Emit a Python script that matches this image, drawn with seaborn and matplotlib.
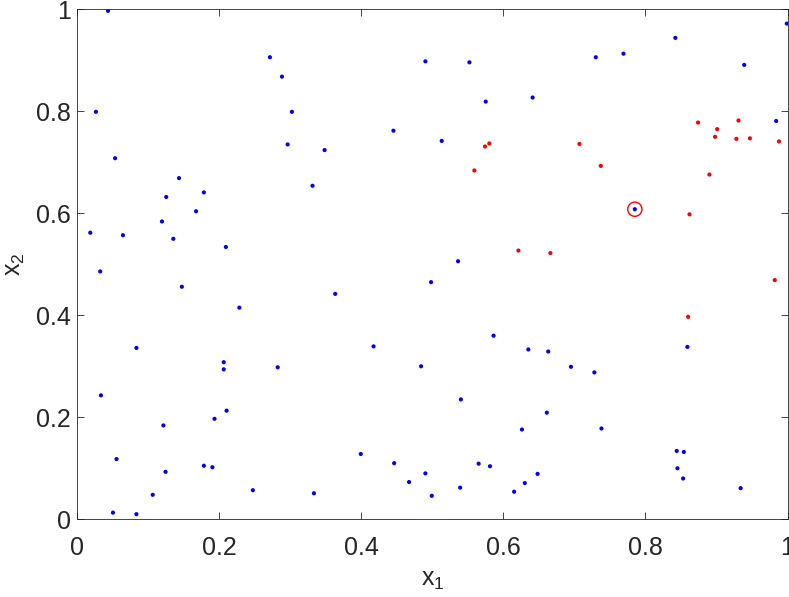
import matplotlib
matplotlib.use("Agg")
import matplotlib.pyplot as plt
import numpy as np
import pandas as pd
import seaborn as sns

sns.set_theme(style="white")
plt.rcParams["font.family"] = ["Liberation Sans", "DejaVu Sans"]
plt.rcParams["mathtext.default"] = "regular"

# blue points (outside the selected region)
blue_x = [0.018, 0.026, 0.032, 0.033, 0.043, 0.050, 0.053, 0.055, 0.064, 0.083, 0.083,
          0.106, 0.119, 0.121, 0.125, 0.124, 0.135, 0.143, 0.147, 0.167, 0.178, 0.178,
          0.190, 0.193, 0.206, 0.206, 0.209, 0.210, 0.228, 0.247, 0.271, 0.282, 0.288,
          0.296, 0.302, 0.331, 0.333, 0.348, 0.363, 0.399, 0.417, 0.445, 0.446, 0.467,
          0.484, 0.490, 0.490, 0.498, 0.499, 0.513, 0.536, 0.539, 0.540, 0.552, 0.565,
          0.575, 0.581, 0.586, 0.615, 0.626, 0.630, 0.635, 0.641, 0.648, 0.661, 0.663,
          0.695, 0.728, 0.730, 0.738, 0.769, 0.785, 0.842, 0.844, 0.845, 0.853, 0.854,
          0.859, 0.934, 0.939, 0.984, 0.999]
blue_y = [0.562, 0.799, 0.486, 0.243, 0.997, 0.013, 0.708, 0.118, 0.557, 0.336, 0.010,
          0.048, 0.584, 0.184, 0.632, 0.093, 0.550, 0.669, 0.456, 0.604, 0.641, 0.105,
          0.102, 0.197, 0.308, 0.294, 0.534, 0.213, 0.415, 0.057, 0.906, 0.298, 0.868,
          0.735, 0.799, 0.654, 0.051, 0.724, 0.442, 0.128, 0.339, 0.762, 0.110, 0.073,
          0.300, 0.898, 0.090, 0.465, 0.046, 0.742, 0.506, 0.062, 0.235, 0.896, 0.109,
          0.819, 0.104, 0.360, 0.054, 0.176, 0.071, 0.333, 0.827, 0.089, 0.209, 0.329,
          0.299, 0.288, 0.906, 0.178, 0.913, 0.608, 0.944, 0.134, 0.100, 0.080, 0.132,
          0.338, 0.061, 0.891, 0.781, 0.972]

# red points
red_x = [0.559, 0.574, 0.580, 0.621, 0.666, 0.707, 0.737, 0.860, 0.862, 0.874, 0.890,
         0.898, 0.901, 0.928, 0.931, 0.947, 0.982, 0.988]
red_y = [0.684, 0.731, 0.737, 0.527, 0.522, 0.736, 0.693, 0.397, 0.598, 0.778, 0.676,
         0.750, 0.765, 0.746, 0.782, 0.747, 0.469, 0.741]

# highlighted point
best_x = [0.785]
best_y = [0.608]

tick_vals = [0, 0.2, 0.4, 0.6, 0.8, 1]
tick_labels = ["0", "0.2", "0.4", "0.6", "0.8", "1"]

df = pd.DataFrame({
    "x1": blue_x + red_x,
    "x2": blue_y + red_y,
    "group": ["blue"] * len(blue_x) + ["red"] * len(red_x),
})

fig = plt.figure(figsize=(7.89, 5.97), dpi=100)
ax = fig.add_axes([0.0982, 0.1302, 0.8999, 0.8542])

sns.scatterplot(data=df, x="x1", y="x2", hue="group",
                palette={"blue": "#0000ff", "red": "#ff0000"},
                s=9, linewidth=0, legend=False, ax=ax)
ax.scatter(best_x, best_y, s=105, facecolors="none", edgecolors="#ff0000", linewidths=1.0)

ax.set_xlim(0, 1)
ax.set_ylim(0, 1)
ax.set_xticks(tick_vals)
ax.set_yticks(tick_vals)
ax.set_xticklabels(tick_labels)
ax.set_yticklabels(tick_labels)
ax.tick_params(direction="in", length=5, width=0.6, color="#262626", labelsize=18,
               labelcolor="#262626", top=True, right=True, bottom=True, left=True)
ax.tick_params(axis="x", pad=12)
ax.tick_params(axis="y", pad=5)
for sp in ax.spines.values():
    sp.set_color("#262626")
    sp.set_linewidth(0.6)
ax.set_xlabel("x$_1$", fontsize=18, color="#262626")
ax.set_ylabel("x$_2$", fontsize=18, color="#262626")
ax.xaxis.set_label_coords(0.5, -0.095)
ax.yaxis.set_label_coords(-0.071, 0.5)

fig.savefig("out.png", dpi=100)
